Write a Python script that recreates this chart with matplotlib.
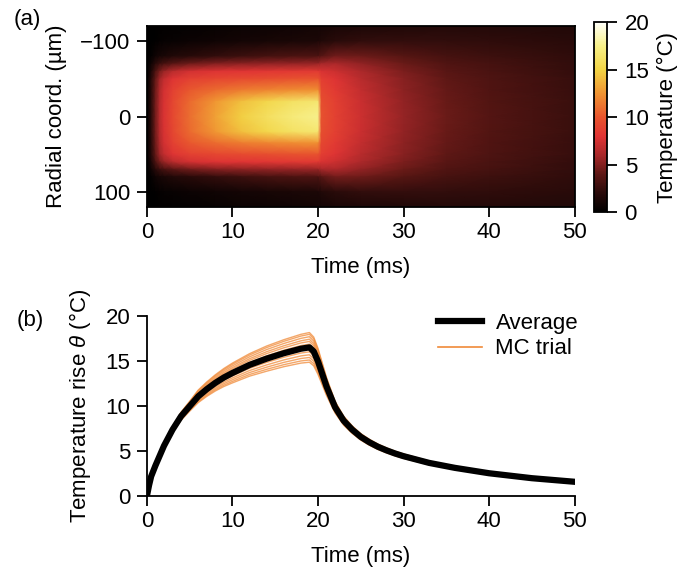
import matplotlib
matplotlib.use('Agg')
import matplotlib.pyplot as plt
from matplotlib.colors import LinearSegmentedColormap
from matplotlib.lines import Line2D
import numpy as np

plt.rcParams.update({
    'font.family': ['Liberation Sans', 'DejaVu Sans'], 'font.size': 16,
    'mathtext.fontset': 'custom', 'mathtext.it': 'Liberation Sans:italic',
    'axes.linewidth': 1.3,
    'xtick.major.width': 1.3, 'ytick.major.width': 1.3,
    'xtick.major.size': 7, 'ytick.major.size': 7,
    'xtick.major.pad': 4, 'ytick.major.pad': 5,
    'axes.labelpad': 8,
    'figure.facecolor': 'white', 'savefig.facecolor': 'white',
})

# ---- panel (a): temperature map, rows = time nodes (ms), cols = |r| nodes (um)
map_time = [0, 0.5, 1, 1.5, 2, 3, 5, 8, 11, 14, 17, 20, 20.4, 22, 25, 30, 35, 40, 50]
map_r = [0, 20, 35, 50, 60, 70, 80, 100, 120]
map_temp = [
    [0.0, 0.0, 0.0, 0.0, 0.0, 0.0, 0.0, 0.0, 0.0],
    [2.0, 2.0, 1.9, 1.8, 1.4, 0.8, 0.3, 0.05, 0.02],
    [4.6, 4.6, 4.4, 4.1, 3.3, 1.9, 0.8, 0.15, 0.07],
    [6.6, 6.5, 6.3, 5.8, 4.7, 2.7, 1.1, 0.25, 0.1],
    [7.8, 7.7, 7.5, 6.9, 5.6, 3.2, 1.3, 0.35, 0.15],
    [9.2, 9.1, 8.7, 7.9, 6.6, 3.8, 1.6, 0.45, 0.2],
    [11.0, 10.8, 10.1, 8.8, 7.5, 4.5, 1.9, 0.6, 0.3],
    [13.0, 12.6, 10.9, 9.2, 7.9, 5.0, 2.4, 0.8, 0.45],
    [14.8, 14.2, 11.5, 9.4, 8.1, 5.3, 2.8, 1.0, 0.6],
    [16.0, 15.3, 11.9, 9.6, 8.2, 5.4, 3.1, 1.15, 0.7],
    [16.9, 16.1, 12.2, 9.8, 8.3, 5.5, 3.3, 1.3, 0.85],
    [17.5, 16.6, 12.4, 9.9, 8.4, 5.6, 3.4, 1.4, 0.95],
    [9.8, 9.6, 9.2, 8.6, 7.8, 6.0, 3.8, 1.6, 1.0],
    [8.8, 8.7, 8.4, 7.9, 7.3, 6.2, 4.6, 2.0, 1.2],
    [7.3, 7.2, 7.0, 6.6, 6.2, 5.4, 4.4, 2.3, 1.4],
    [5.5, 5.4, 5.3, 5.1, 4.8, 4.3, 3.7, 2.4, 1.55],
    [4.3, 4.25, 4.15, 4.0, 3.8, 3.5, 3.1, 2.3, 1.65],
    [3.6, 3.55, 3.5, 3.4, 3.25, 3.05, 2.8, 2.2, 1.7],
    [2.6, 2.6, 2.55, 2.5, 2.4, 2.3, 2.2, 1.9, 1.6],
]

# ---- panel (b): average temperature rise and MC trial spread
avg_time = [0, 0.25, 0.5, 1, 1.5, 2, 3, 4, 5, 6, 7, 8, 9, 10, 12, 14, 16, 18, 19,
            19.5, 20, 21, 22, 23, 24, 25, 26, 27, 28, 29, 30, 33, 36, 40, 45, 50]
avg_temp = [0, 1.2, 2.2, 3.4, 4.5, 5.6, 7.4, 8.9, 10.0, 11.1, 11.9, 12.6, 13.2, 13.7,
            14.6, 15.3, 15.9, 16.4, 16.55, 16.1, 15.0, 12.2, 9.9, 8.4, 7.4, 6.6,
            6.0, 5.5, 5.1, 4.75, 4.45, 3.7, 3.15, 2.55, 2.0, 1.6]
mc_spread = [0, 0.01, 0.02, 0.05, 0.1, 0.15, 0.3, 0.45, 0.55, 0.7, 0.8, 0.9, 1.0, 1.1,
             1.25, 1.4, 1.5, 1.6, 1.65, 1.6, 1.45, 1.0, 0.65, 0.5, 0.42, 0.36,
             0.33, 0.3, 0.28, 0.26, 0.25, 0.2, 0.17, 0.14, 0.12, 0.1]
mc_factor = [1.0, 0.88, 0.72, 0.55, 0.4, 0.22, -0.1, -0.3, -0.5, -0.68, -0.85, -1.0]

ORANGE = '#F08A38'
cmap = LinearSegmentedColormap.from_list('heat', [
    (0.0, '#000000'), (0.1, '#2a0b0a'), (0.2, '#5e1815'), (0.3, '#a8282a'),
    (0.4, '#e03434'), (0.5, '#e8552e'), (0.625, '#f09432'), (0.75, '#f2d444'),
    (0.875, '#f7f088'), (1.0, '#fffffa')])

fig = plt.figure(figsize=(6.8, 5.69), dpi=100)
ax1 = fig.add_axes([0.216, 0.636, 0.629, 0.318])
cax = fig.add_axes([0.874, 0.627, 0.018, 0.334])
ax2 = fig.add_axes([0.216, 0.128, 0.629, 0.316])

# mirror the half profile to the full radial coordinate
r_full = [-v for v in map_r[::-1]] + map_r[1:]
grid = np.array(map_temp)
grid_full = np.hstack([grid[:, ::-1], grid[:, 1:]]).T
T, R = np.meshgrid(map_time, r_full)
mesh = ax1.pcolormesh(T, R, grid_full, cmap=cmap, vmin=0, vmax=20,
                      shading='gouraud', rasterized=True)
ax1.set_xlim(0, 50)
ax1.set_ylim(120, -120)
ax1.set_xticks([0, 10, 20, 30, 40, 50])
ax1.set_yticks([-100, 0, 100])
ax1.set_xlabel('Time (ms)', labelpad=10)
ax1.set_ylabel('Radial coord. (µm)', labelpad=9)

cb = fig.colorbar(mesh, cax=cax, ticks=[0, 5, 10, 15, 20])
cb.outline.set_linewidth(1.3)
cax.tick_params(length=7, width=1.3, pad=6)
cb.set_label('Temperature (°C)', labelpad=5)

# panel (b)
avg_t = np.array(avg_time)
avg_v = np.array(avg_temp)
spread = np.array(mc_spread)
for f in mc_factor:
    ax2.plot(avg_t, avg_v + f * spread, color=ORANGE, lw=1.0, alpha=0.75)
ax2.plot(avg_t, avg_v, color='black', lw=4.5)
ax2.set_xlim(0, 50)
ax2.set_ylim(0, 20)
ax2.set_xticks([0, 10, 20, 30, 40, 50])
ax2.set_yticks([0, 5, 10, 15, 20])
ax2.spines['top'].set_visible(False)
ax2.spines['right'].set_visible(False)
ax2.set_xlabel('Time (ms)', labelpad=10)
ax2.set_ylabel(r'Temperature rise $\theta$ (°C)', labelpad=9)
handles = [Line2D([], [], color='black', lw=4.5), Line2D([], [], color=ORANGE, lw=1.2)]
ax2.legend(handles, ['Average', 'MC trial'], loc='upper right', frameon=False,
           bbox_to_anchor=(1.055, 1.13), handlelength=2.0, handletextpad=0.6,
           labelspacing=0.2)

fig.text(0.02, 0.985, '(a)', fontsize=16, va='top')
fig.text(0.025, 0.455, '(b)', fontsize=16, va='top')

fig.savefig('out.png', dpi=100)
